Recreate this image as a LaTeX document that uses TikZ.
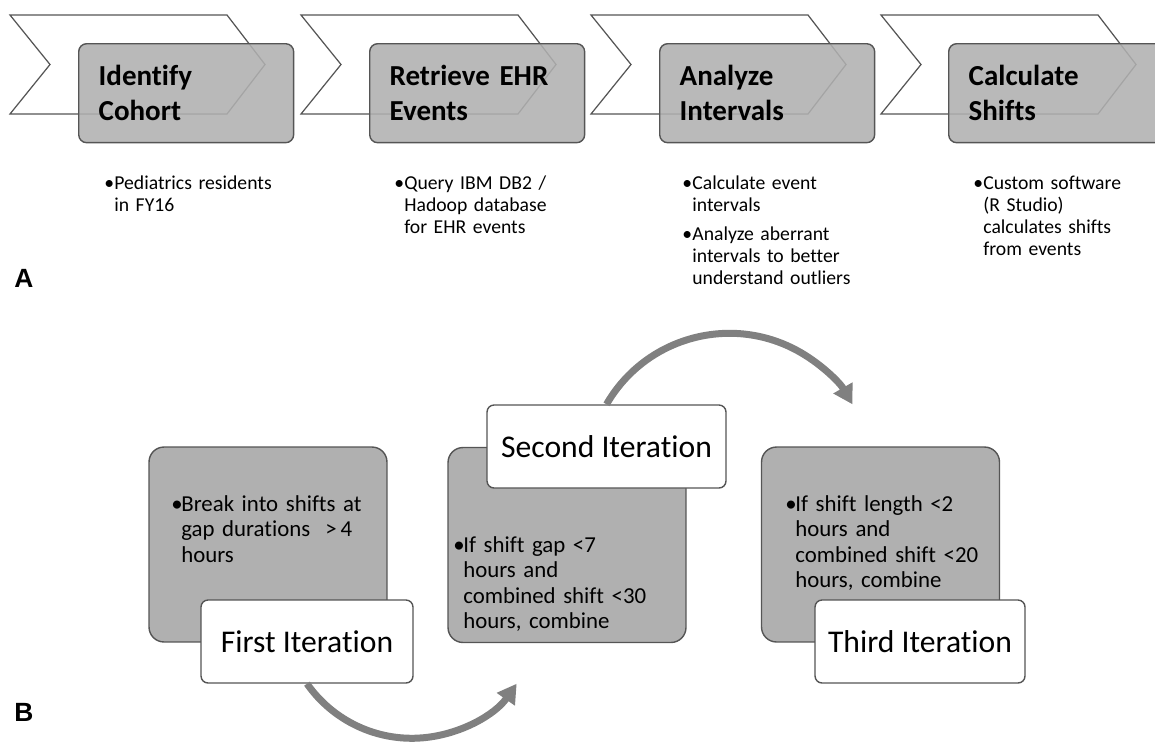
\documentclass[tikz,border=0pt]{standalone}
\usepackage{fontspec}
\setmainfont{Carlito}[Ligatures=NoCommon]
\newfontfamily\panelfont{Liberation Sans}
\usetikzlibrary{arrows.meta,positioning}
\definecolor{boxgray}{RGB}{176,176,176}
\definecolor{edgegray}{RGB}{85,85,85}
\definecolor{arcgray}{RGB}{128,128,128}
\newcommand{\bitem}[1]{\par\noindent\makebox[0.2cm][l]{\textbullet}\begin{tabular}[t]{@{}l@{}}#1\end{tabular}\par}

\begin{document}
\begin{tikzpicture}[x=0.02cm,y=-0.02cm,
  chev/.style={draw=edgegray,fill=white,line width=0.7pt},
  stepbox/.style={draw=edgegray,fill=boxgray,fill opacity=0.88,text opacity=1,rounded corners=0.16cm,line width=0.8pt,minimum width=4.3cm,minimum height=1.98cm,text width=3.5cm,inner xsep=0.4cm,align=left,anchor=north west,font=\fontsize{16.5}{19.9}\selectfont\bfseries},
  note/.style={text width=4cm,inner sep=0pt,anchor=base west,font=\fontsize{11.2}{12.5}\selectfont},
  bnote/.style={note,text width=4.4cm,font=\fontsize{13}{14.5}\selectfont},
  bigbox/.style={draw=edgegray,fill=boxgray,rounded corners=0.3cm,line width=0.8pt,minimum width=4.76cm,minimum height=3.9cm},
  iterbox/.style={draw=edgegray,fill=white,rounded corners=0.14cm,line width=0.8pt,minimum height=1.66cm,font=\fontsize{18}{21}\selectfont},
  flow/.style={arcgray,line width=0.14cm,-{Triangle[length=0.38cm,width=0.42cm]}},
  panel/.style={font=\panelfont\bfseries\fontsize{15}{18}\selectfont}]
\useasboundingbox (0,0) rectangle (1155,741);
% A: pipeline
\draw[chev] (10,15) -- ++(217,0) -- ++(38,49.5) -- ++(-38,49.5) -- ++(-217,0) -- ++(40,-49.5) -- cycle;
\node[stepbox] (cohort) at (78,43) {Identify\\Cohort};
\node[note] (cohortnote) at (104,168) {\bitem{Pediatrics residents\\in FY16}};
\draw[chev] (301,15) -- ++(217,0) -- ++(38,49.5) -- ++(-38,49.5) -- ++(-217,0) -- ++(40,-49.5) -- cycle;
\node[stepbox] (events) at (369,43) {Retrieve EHR\\Events};
\node[note] (eventsnote) at (394,168) {\bitem{Query IBM DB2 /\\Hadoop database\\for EHR events}};
\draw[chev] (591,15) -- ++(217,0) -- ++(38,49.5) -- ++(-38,49.5) -- ++(-217,0) -- ++(40,-49.5) -- cycle;
\node[stepbox] (intervals) at (659,43) {Analyze\\Intervals};
\node[note] (intervalsnote) at (682,168) {\bitem{Calculate event\\intervals}\vspace{0.1cm}\bitem{Analyze aberrant\\intervals to better\\understand outliers}};
\draw[chev] (881,15) -- ++(217,0) -- ++(38,49.5) -- ++(-38,49.5) -- ++(-217,0) -- ++(40,-49.5) -- cycle;
\node[stepbox] (shifts) at (948,43) {Calculate\\Shifts};
\node[note] (shiftsnote) at (973,168) {\bitem{Custom software\\(R Studio)\\calculates shifts\\from events}};
\node[panel] (labA) at (24,278) {A};
% B: iterations
\node[bigbox] (box1) at (268,544.5) {};
\node[bnote] (text1) at (171,486) {\bitem{Break into shifts at\\gap durations\ \ >\,4\\hours}};
\node[iterbox,minimum width=4.24cm] (first) at (307,641.5) {First Iteration};
\node[bigbox] (box2) at (567,545) {};
\node[bnote] (text2) at (453,527) {\bitem{If shift gap <7\\hours and\\combined shift <30\\hours, combine}};
\node[iterbox,minimum width=4.78cm] (second) at (606.5,446.5) {Second Iteration};
\node[bigbox] (box3) at (880.5,544.5) {};
\node[bnote] (text3) at (785,486) {\bitem{If shift length <2\\hours and\\combined shift <20\\hours, combine}};
\node[iterbox,minimum width=4.2cm] (third) at (920,641.5) {Third Iteration};
\draw[flow] (first.south) arc[start angle=215,end angle=325,radius=2.56cm];
\draw[flow] (second.north) arc[start angle=150,end angle=30,radius=2.84cm];
\node[panel] (labB) at (24,712) {B};
\end{tikzpicture}
\end{document}
